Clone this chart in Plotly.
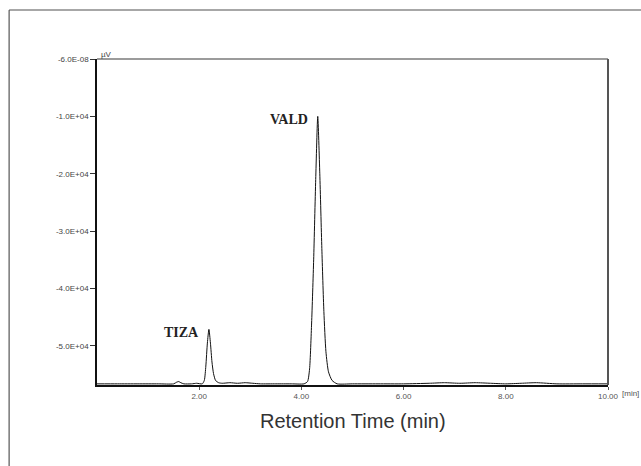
import plotly.graph_objects as go

# 保留时间 (min) 与信号 (µV)
time_min = [0.00, 0.40, 0.80, 1.20, 1.50, 1.56, 1.60, 1.64, 1.70, 1.85, 1.95,
            2.06, 2.10, 2.13, 2.16, 2.19, 2.22, 2.25, 2.28, 2.32, 2.38, 2.45,
            2.60, 2.75, 2.90, 3.05, 3.20, 3.50, 3.80, 4.05,
            4.12, 4.16, 4.20, 4.24, 4.28, 4.32, 4.36, 4.40, 4.44, 4.48, 4.53,
            4.60, 4.70, 5.00, 5.50, 6.00, 6.50, 6.80, 7.10, 7.40, 7.70, 8.00,
            8.30, 8.60, 9.00, 9.50, 10.00]
signal_uv = [-5.66e4, -5.66e4, -5.66e4, -5.66e4, -5.66e4, -5.63e4, -5.62e4, -5.64e4, -5.66e4, -5.66e4, -5.65e4,
             -5.66e4, -5.60e4, -5.35e4, -4.95e4, -4.71e4, -4.95e4, -5.28e4, -5.48e4, -5.60e4, -5.64e4, -5.65e4,
             -5.64e4, -5.65e4, -5.64e4, -5.65e4, -5.66e4, -5.66e4, -5.66e4, -5.66e4,
             -5.62e4, -5.40e4, -4.60e4, -3.50e4, -2.10e4, -1.00e4, -2.00e4, -3.30e4, -4.40e4, -5.10e4, -5.45e4,
             -5.60e4, -5.66e4, -5.66e4, -5.66e4, -5.66e4, -5.65e4, -5.64e4, -5.65e4, -5.64e4, -5.65e4, -5.66e4,
             -5.65e4, -5.64e4, -5.66e4, -5.66e4, -5.66e4]

peak_names = ["TIZA", "VALD"]
peak_times = [2.19, 4.32]
peak_heights = [-4.71e4, -1.00e4]

y_tickvals = [-6e-8, -1e4, -2e4, -3e4, -4e4, -5e4]
y_ticktext = ["-6.0E-08", "-1.0E+04", "-2.0E+04", "-3.0E+04", "-4.0E+04", "-5.0E+04"]
x_tickvals = [2, 4, 6, 8, 10]
x_ticktext = ["2.00", "4.00", "6.00", "8.00", "10.00"]

SANS = "Liberation Sans, Arial, sans-serif"

fig = go.Figure()
fig.add_trace(go.Scatter(
    x=time_min, y=signal_uv, mode="lines",
    line=dict(color="#111111", width=1, shape="spline", smoothing=0.6),
    hoverinfo="skip"
))

# 峰标注
for name, t, h in zip(peak_names, peak_times, peak_heights):
    fig.add_annotation(
        x=t, y=h, text="<b>%s</b>" % name, showarrow=False,
        xanchor="right", yanchor="middle", xshift=-8, yshift=-3,
        font=dict(family="Liberation Serif, Times New Roman, serif", size=14, color="#222222")
    )

fig.add_annotation(xref="paper", yref="paper", x=0.003, y=1.0, text="µV", showarrow=False,
                   xanchor="left", yanchor="bottom", yshift=-2,
                   font=dict(family=SANS, size=8, color="#444444"))
fig.add_annotation(xref="paper", yref="paper", x=1.0, y=0, text="[min]", showarrow=False,
                   xanchor="left", yanchor="top", xshift=12, yshift=-2,
                   font=dict(family=SANS, size=8, color="#555555"))
fig.add_annotation(xref="paper", yref="paper", x=0.5, y=-0.110, text="Retention Time (min)",
                   showarrow=False, xanchor="center", yanchor="middle",
                   font=dict(family=SANS, size=20, color="#333333"))

# 外框线 与 绘图区上/右边框
fig.add_shape(type="line", xref="paper", yref="paper", x0=-0.172, x1=1.08, y0=1.150, y1=1.150,
              line=dict(color="#8a8a8a", width=1.5))
fig.add_shape(type="line", xref="paper", yref="paper", x0=-0.172, x1=-0.172, y0=1.150, y1=-0.26,
              line=dict(color="#333333", width=1))
fig.add_shape(type="line", xref="paper", yref="paper", x0=0, x1=1, y0=1, y1=1,
              line=dict(color="#7a7a7a", width=1.5))
fig.add_shape(type="line", xref="paper", yref="paper", x0=1, x1=1, y0=0, y1=1,
              line=dict(color="#555555", width=2))

fig.update_layout(
    width=641, height=466,
    margin=dict(l=97, r=33, t=59, b=81),
    paper_bgcolor="white", plot_bgcolor="white",
    showlegend=False,
    xaxis=dict(
        range=[0, 10], tickvals=x_tickvals, ticktext=x_ticktext,
        showgrid=False, zeroline=False, showline=True, linecolor="#111111", linewidth=1.5,
        ticks="outside", ticklen=3, tickcolor="#555555",
        tickfont=dict(family=SANS, size=8, color="#555555")
    ),
    yaxis=dict(
        range=[-5.68e4, 0], tickvals=y_tickvals, ticktext=y_ticktext,
        showgrid=False, zeroline=False, showline=True, linecolor="#111111", linewidth=1.5,
        ticks="outside", ticklen=5, tickcolor="#333333",
        tickfont=dict(family=SANS, size=8, color="#444444")
    ),
)

# 去掉页面默认边距，使图表贴合窗口
fig.write_html("out.html", config={"displayModeBar": False},
               post_script="document.body.style.margin='0';document.body.style.overflow='hidden';")
